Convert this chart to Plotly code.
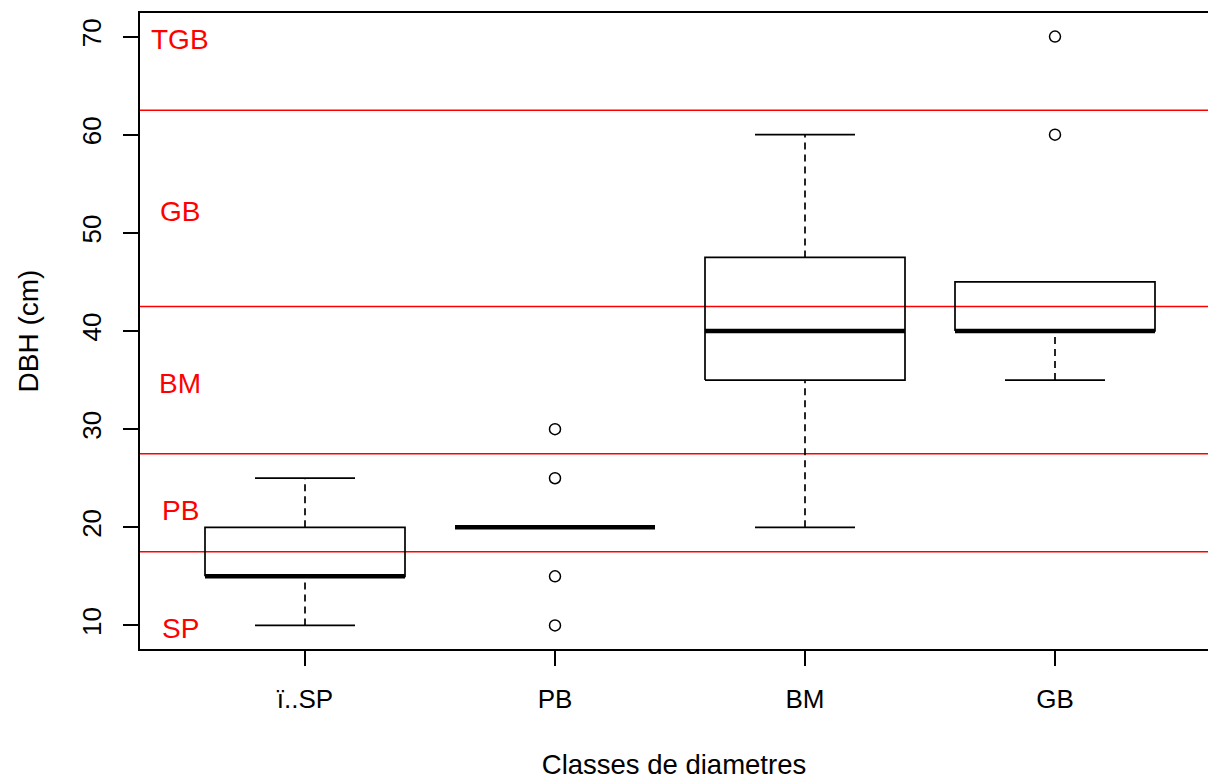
import plotly.graph_objects as go

# Diameter-class boxplot statistics (DBH, cm)
classes = ["ï..SP", "PB", "BM", "GB"]
lower_whisker = [10, 20, 20, 35]
q1 = [15, 20, 35, 40]
median = [15, 20, 40, 40]
q3 = [20, 20, 47.5, 45]
upper_whisker = [25, 20, 60, 45]

# Outlying trees per class
outlier_class = ["PB", "PB", "PB", "PB", "GB", "GB"]
outlier_dbh = [10, 15, 25, 30, 60, 70]

# Class boundaries and their labels
boundaries = [17.5, 27.5, 42.5, 62.5]
zone_labels = ["SP", "PB", "BM", "GB", "TGB"]
zone_label_y = [10, 22, 35, 52.5, 70]

FONT = "Liberation Sans, Arial, sans-serif"
BOX_HALF = 0.4
CAP_HALF = 0.2
pos = {c: i + 1 for i, c in enumerate(classes)}

fig = go.Figure()

# Red class boundaries
for b in boundaries:
    fig.add_hline(y=b, line=dict(color="#ff0000", width=1.5), layer="below")

for c, lo, a, m, b, hi in zip(classes, lower_whisker, q1, median, q3, upper_whisker):
    x = pos[c]
    # box outline
    fig.add_trace(go.Scatter(
        x=[x - BOX_HALF, x + BOX_HALF, x + BOX_HALF, x - BOX_HALF, x - BOX_HALF],
        y=[a, a, b, b, a], mode="lines",
        line=dict(color="black", width=1.7), hoverinfo="skip"))
    # whiskers (dashed) and caps
    if hi > b:
        fig.add_trace(go.Scatter(x=[x, x], y=[b, hi], mode="lines",
                                 line=dict(color="black", width=1.7, dash="7px,5px"),
                                 hoverinfo="skip"))
        fig.add_trace(go.Scatter(x=[x - CAP_HALF, x + CAP_HALF], y=[hi, hi], mode="lines",
                                 line=dict(color="black", width=1.7), hoverinfo="skip"))
    if lo < a:
        fig.add_trace(go.Scatter(x=[x, x], y=[lo, a], mode="lines",
                                 line=dict(color="black", width=1.7, dash="7px,5px"),
                                 hoverinfo="skip"))
        fig.add_trace(go.Scatter(x=[x - CAP_HALF, x + CAP_HALF], y=[lo, lo], mode="lines",
                                 line=dict(color="black", width=1.7), hoverinfo="skip"))
    # median
    fig.add_trace(go.Scatter(x=[x - BOX_HALF, x + BOX_HALF], y=[m, m], mode="lines",
                             line=dict(color="black", width=4.5), hoverinfo="skip"))

# Outliers
fig.add_trace(go.Scatter(
    x=[pos[c] for c in outlier_class], y=outlier_dbh, mode="markers",
    marker=dict(symbol="circle-open", size=11, color="black", line=dict(width=1.5)),
    hoverinfo="skip"))

# Zone labels
for lab, yv in zip(zone_labels, zone_label_y):
    fig.add_annotation(x=0.5, y=yv, text=lab, showarrow=False, yshift=-3,
                       xanchor="center", yanchor="middle",
                       font=dict(family=FONT, size=28, color="#ff0000"))

fig.update_layout(
    width=1208, height=781,
    margin=dict(l=140, r=0, t=13, b=132),
    plot_bgcolor="white", paper_bgcolor="white",
    showlegend=False,
    font=dict(family=FONT, size=26, color="black"),
    xaxis=dict(
        range=[0.34, 4.612], tickmode="array", tickvals=[1, 2, 3, 4], ticktext=classes,
        showgrid=False, zeroline=False, showline=True, mirror=True,
        linecolor="black", linewidth=1.5, ticks="outside", ticklen=15, tickwidth=1.5,
        tickcolor="black", ticklabelstandoff=11,
        title=dict(text="Classes de diametres", standoff=42,
                   font=dict(family=FONT, size=27.5)),
    ),
    yaxis=dict(
        range=[7.6, 72.4], tickmode="array", tickvals=[10, 20, 30, 40, 50, 60, 70],
        showgrid=False, zeroline=False, showline=True,
        linecolor="black", linewidth=1.5, ticks="outside", ticklen=15, tickwidth=1.5,
        tickcolor="black", tickangle=-90, ticklabelstandoff=12,
        title=dict(text="DBH (cm)", standoff=30,
                   font=dict(family=FONT, size=28)),
    ),
)

fig.write_html("out.html")
